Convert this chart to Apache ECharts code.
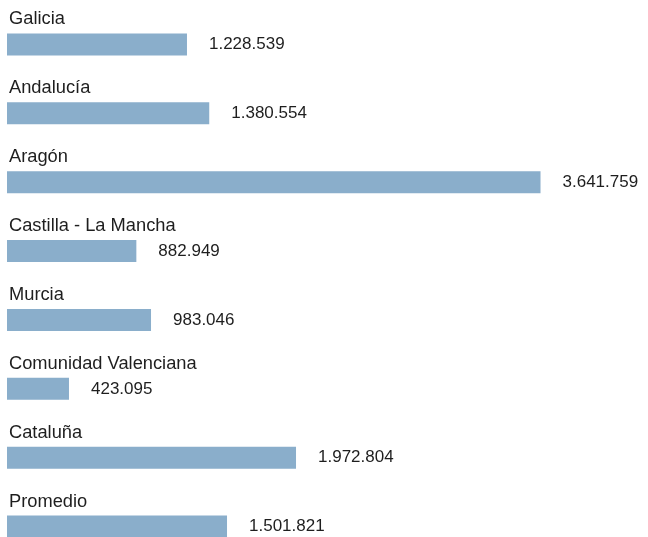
<!DOCTYPE html>
<html>
<head>
<meta charset="utf-8">
<script src="https://cdn.jsdelivr.net/npm/echarts@6/dist/echarts.min.js"></script>
<style>
  html, body { margin: 0; padding: 0; background: #ffffff; }
  #chart { width: 648px; height: 537px; }
</style>
</head>
<body>
<div id="chart"></div>
<script>
// Regions and their values
const categories = [
  'Galicia',
  'Andalucía',
  'Aragón',
  'Castilla - La Mancha',
  'Murcia',
  'Comunidad Valenciana',
  'Cataluña',
  'Promedio'
];
const values = [1228539, 1380554, 3641759, 882949, 983046, 423095, 1972804, 1501821];

// Spanish thousands separator (dots)
function fmt(v) {
  return String(v).replace(/\B(?=(\d{3})+(?!\d))/g, '.');
}

const chart = echarts.init(document.getElementById('chart'), null, { renderer: 'canvas' });

chart.setOption({
  backgroundColor: '#ffffff',
  animation: false,
  grid: {
    left: 7, right: 55, top: 10, height: 551,
    containLabel: false,
    outerBoundsMode: 'none'
  },
  xAxis: {
    type: 'value',
    min: 0,
    max: 4000000,
    show: false
  },
  yAxis: {
    type: 'category',
    inverse: true,
    data: categories,
    z: 5,
    axisLine: { show: false },
    axisTick: { show: false },
    splitLine: { show: false },
    axisLabel: {
      inside: true,
      margin: 2,
      color: '#1e1e1e',
      fontFamily: 'Liberation Sans, Arial, sans-serif',
      fontSize: 18.3,
      verticalAlign: 'bottom',
      lineHeight: 50
    }
  },
  series: [{
    type: 'bar',
    data: values,
    barWidth: 22,
    itemStyle: { color: '#8aaecb' },
    label: {
      show: true,
      position: 'right',
      distance: 22,
      color: '#1e1e1e',
      fontFamily: 'Liberation Sans, Arial, sans-serif',
      fontSize: 17,
      formatter: p => fmt(p.value)
    }
  }]
});
</script>
</body>
</html>
